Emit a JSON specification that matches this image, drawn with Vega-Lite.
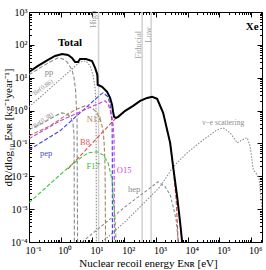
{
  "$schema": "https://vega.github.io/schema/vega-lite/v6.json",
  "width": 233,
  "height": 230,
  "autosize": {"type": "none"},
  "padding": {"left": 29, "top": 12, "right": 4, "bottom": 28},
  "config": {
    "view": {"stroke": "#000000", "strokeWidth": 1},
    "font": "Liberation Serif",
    "axis": {"grid": false, "domain": false, "tickColor": "#000000", "labelColor": "#000000", "titleColor": "#000000", "labelFont": "Liberation Serif", "titleFont": "Liberation Serif", "labelOverlap": false, "labelBound": false, "labelFlush": false},
    "text": {"font": "Liberation Serif", "align": "center", "baseline": "middle"}
  },
  "datasets": {
    "curves": [
      {"s": "Total", "E": 0.1, "R": 15.0}, {"s": "Total", "E": 0.192, "R": 22.9}, {"s": "Total", "E": 0.397, "R": 34.8}, {"s": "Total", "E": 0.661, "R": 46.0}, {"s": "Total", "E": 1.1, "R": 52.9}, {"s": "Total", "E": 1.7, "R": 49.3}, {"s": "Total", "E": 2.27, "R": 40.0}, {"s": "Total", "E": 2.82, "R": 30.2}, {"s": "Total", "E": 3.52, "R": 30.2}, {"s": "Total", "E": 4.06, "R": 37.2}, {"s": "Total", "E": 6.28, "R": 37.2}, {"s": "Total", "E": 9.7, "R": 32.4}, {"s": "Total", "E": 12.1, "R": 19.9}, {"s": "Total", "E": 14.0, "R": 13.0}, {"s": "Total", "E": 14.3, "R": 11.5}, {"s": "Total", "E": 14.6, "R": 6.1}, {"s": "Total", "E": 20.1, "R": 5.25}, {"s": "Total", "E": 28.9, "R": 3.7}, {"s": "Total", "E": 35.9, "R": 2.43}, {"s": "Total", "E": 41.5, "R": 1.49}, {"s": "Total", "E": 44.7, "R": 0.912}, {"s": "Total", "E": 48.0, "R": 0.644}, {"s": "Total", "E": 55.5, "R": 0.6}, {"s": "Total", "E": 64.3, "R": 0.644}, {"s": "Total", "E": 107, "R": 0.98}, {"s": "Total", "E": 191, "R": 1.39}, {"s": "Total", "E": 318, "R": 1.97}, {"s": "Total", "E": 527, "R": 2.43}, {"s": "Total", "E": 759, "R": 2.61}, {"s": "Total", "E": 1091, "R": 2.27}, {"s": "Total", "E": 1687, "R": 0.851}, {"s": "Total", "E": 2805, "R": 0.104}, {"s": "Total", "E": 3491, "R": 0.0195}, {"s": "Total", "E": 4667, "R": 0.00238}, {"s": "Total", "E": 5794, "R": 0.000386}, {"s": "Total", "E": 6699, "R": 0.0001},
      {"s": "pp", "E": 0.1, "R": 12.2}, {"s": "pp", "E": 0.222, "R": 19.9}, {"s": "pp", "E": 0.459, "R": 30.2}, {"s": "pp", "E": 0.822, "R": 40.0}, {"s": "pp", "E": 1.18, "R": 37.2}, {"s": "pp", "E": 1.58, "R": 30.2}, {"s": "pp", "E": 2.27, "R": 17.3}, {"s": "pp", "E": 2.63, "R": 9.86}, {"s": "pp", "E": 2.93, "R": 4.26}, {"s": "pp", "E": 3.27, "R": 0.521}, {"s": "pp", "E": 3.39, "R": 0.0001},
      {"s": "7Be(0.86)", "E": 0.1, "R": 1.29}, {"s": "7Be(0.86)", "E": 4.06, "R": 30.2}, {"s": "7Be(0.86)", "E": 6.28, "R": 32.4}, {"s": "7Be(0.86)", "E": 8.4, "R": 22.9}, {"s": "7Be(0.86)", "E": 10.4, "R": 12.2}, {"s": "7Be(0.86)", "E": 12.1, "R": 4.9}, {"s": "7Be(0.86)", "E": 13.0, "R": 1.05}, {"s": "7Be(0.86)", "E": 13.3, "R": 0.0001},
      {"s": "7Be(0.38)", "E": 0.1, "R": 0.259}, {"s": "7Be(0.38)", "E": 0.32, "R": 0.454}, {"s": "7Be(0.38)", "E": 0.661, "R": 0.69}, {"s": "7Be(0.38)", "E": 1.1, "R": 0.851}, {"s": "7Be(0.38)", "E": 1.58, "R": 0.794}, {"s": "7Be(0.38)", "E": 2.11, "R": 0.6}, {"s": "7Be(0.38)", "E": 2.44, "R": 0.394}, {"s": "7Be(0.38)", "E": 2.63, "R": 0.182}, {"s": "7Be(0.38)", "E": 2.69, "R": 0.0001},
      {"s": "B8", "E": 1.7, "R": 0.0169}, {"s": "B8", "E": 55.5, "R": 0.6}, {"s": "B8", "E": 64.3, "R": 0.64}, {"s": "B8", "E": 107, "R": 0.97}, {"s": "B8", "E": 191, "R": 1.38}, {"s": "B8", "E": 318, "R": 1.96}, {"s": "B8", "E": 527, "R": 2.42}, {"s": "B8", "E": 759, "R": 2.6}, {"s": "B8", "E": 1091, "R": 2.26}, {"s": "B8", "E": 1687, "R": 0.845}, {"s": "B8", "E": 2805, "R": 0.1}, {"s": "B8", "E": 3491, "R": 0.0185}, {"s": "B8", "E": 4335, "R": 0.00193}, {"s": "B8", "E": 4667, "R": 0.000476}, {"s": "B8", "E": 5012, "R": 0.0001},
      {"s": "N13", "E": 0.1, "R": 0.17}, {"s": "N13", "E": 0.459, "R": 0.343}, {"s": "N13", "E": 1.37, "R": 0.69}, {"s": "N13", "E": 2.82, "R": 1.05}, {"s": "N13", "E": 5.85, "R": 1.39}, {"s": "N13", "E": 9.7, "R": 1.21}, {"s": "N13", "E": 14.0, "R": 0.851}, {"s": "N13", "E": 18.7, "R": 0.454}, {"s": "N13", "E": 21.6, "R": 0.242}, {"s": "N13", "E": 23.2, "R": 0.112}, {"s": "N13", "E": 24.9, "R": 0.0224}, {"s": "N13", "E": 25.9, "R": 0.0001},
      {"s": "pep", "E": 0.1, "R": 0.0638}, {"s": "pep", "E": 0.95, "R": 0.242}, {"s": "pep", "E": 17.4, "R": 3.0}, {"s": "pep", "E": 21.6, "R": 3.45}, {"s": "pep", "E": 31.0, "R": 2.61}, {"s": "pep", "E": 35.9, "R": 1.49}, {"s": "pep", "E": 41.5, "R": 0.454}, {"s": "pep", "E": 42.2, "R": 0.05}, {"s": "pep", "E": 42.5, "R": 0.0001},
      {"s": "O15", "E": 0.1, "R": 0.138}, {"s": "O15", "E": 0.95, "R": 0.486}, {"s": "O15", "E": 17.4, "R": 1.71}, {"s": "O15", "E": 24.9, "R": 1.97}, {"s": "O15", "E": 31.0, "R": 1.6}, {"s": "O15", "E": 35.9, "R": 1.05}, {"s": "O15", "E": 41.5, "R": 0.6}, {"s": "O15", "E": 44.7, "R": 0.367}, {"s": "O15", "E": 48.0, "R": 0.129}, {"s": "O15", "E": 49.0, "R": 0.0001},
      {"s": "F17", "E": 0.1, "R": 0.00157}, {"s": "F17", "E": 1.7, "R": 0.0182}, {"s": "F17", "E": 3.52, "R": 0.0318}, {"s": "F17", "E": 7.26, "R": 0.0518}, {"s": "F17", "E": 14.0, "R": 0.0556}, {"s": "F17", "E": 21.6, "R": 0.045}, {"s": "F17", "E": 31.0, "R": 0.0257}, {"s": "F17", "E": 41.5, "R": 0.00783}, {"s": "F17", "E": 44.7, "R": 0.00238}, {"s": "F17", "E": 51.6, "R": 0.000476}, {"s": "F17", "E": 55.5, "R": 0.0001},
      {"s": "hep", "E": 4.7, "R": 0.0001}, {"s": "hep", "E": 107, "R": 0.00118}, {"s": "hep", "E": 456, "R": 0.00338}, {"s": "hep", "E": 1172, "R": 0.00681}, {"s": "hep", "E": 1950, "R": 0.0048}, {"s": "hep", "E": 2805, "R": 0.00274}, {"s": "hep", "E": 3491, "R": 0.00118}, {"s": "hep", "E": 4335, "R": 0.000476}, {"s": "hep", "E": 5070, "R": 0.0001},
      {"s": "ν−e scattering", "E": 20.1, "R": 0.0001}, {"s": "ν−e scattering", "E": 107, "R": 0.000414}, {"s": "ν−e scattering", "E": 318, "R": 0.00118}, {"s": "ν−e scattering", "E": 1355, "R": 0.0048}, {"s": "ν−e scattering", "E": 3491, "R": 0.0195}, {"s": "ν−e scattering", "E": 9640, "R": 0.0518}, {"s": "ν−e scattering", "E": 30800, "R": 0.129}, {"s": "ν−e scattering", "E": 85300, "R": 0.259}, {"s": "ν−e scattering", "E": 131800, "R": 0.298}, {"s": "ν−e scattering", "E": 219300, "R": 0.21}, {"s": "ν−e scattering", "E": 364800, "R": 0.104}, {"s": "ν−e scattering", "E": 523600, "R": 0.129}, {"s": "ν−e scattering", "E": 753000, "R": 0.148}, {"s": "ν−e scattering", "E": 937000, "R": 0.0789}, {"s": "ν−e scattering", "E": 1164000, "R": 0.0158}, {"s": "ν−e scattering", "E": 1556000, "R": 0.0111}, {"s": "ν−e scattering", "E": 1803000, "R": 0.00783}, {"s": "ν−e scattering", "E": 2239000, "R": 0.000778}
    ],
    "thr": [{"name": "High", "E": 15.6}, {"name": "Fiducial", "E": 367}, {"name": "Low", "E": 706}],
    "labels": [
      {"s": "Total", "t": "Total", "E": 1.96, "R": 114},
      {"s": "Xe", "t": "Xe", "E": 1080000, "R": 350},
      {"s": "pp", "t": "pp", "E": 0.428, "R": 15.0},
      {"s": "N13", "t": "N13", "E": 11.2, "R": 0.56},
      {"s": "pep", "t": "pep", "E": 0.344, "R": 0.0518},
      {"s": "B8", "t": "B8", "E": 5.85, "R": 0.112},
      {"s": "F17", "t": "F17", "E": 10.4, "R": 0.0209},
      {"s": "O15", "t": "O15", "E": 99.3, "R": 0.0158},
      {"s": "hep", "t": "hep", "E": 205, "R": 0.0042},
      {"s": "ν−e scattering", "t": "ν−e scattering", "E": 131800, "R": 0.423},
      {"s": "7Be(0.86)", "t": "⁷Be(0.86)", "E": 0.257, "R": 4.9},
      {"s": "7Be(0.38)", "t": "⁷Be(0.38)", "E": 0.257, "R": 0.486},
      {"s": "High", "t": "High", "E": 10.6, "R": 600},
      {"s": "Fiducial", "t": "Fiducial", "E": 274, "R": 100},
      {"s": "Low", "t": "Low", "E": 560, "R": 200}
    ]
  },
  "resolve": {"axis": {"x": "independent", "y": "independent"}},
  "layer": [
    {
      "data": {"name": "thr"},
      "mark": {"type": "rule", "color": "#d2d2d2", "strokeWidth": 1.5},
      "encoding": {
        "x": {"field": "E", "type": "quantitative", "scale": {"type": "log", "domain": [0.1, 2200000], "nice": false}, "axis": null}
      }
    },
    {
      "data": {"name": "curves"},
      "transform": [{"filter": "datum.s !== 'Total'"}],
      "mark": {"type": "line", "clip": true, "strokeWidth": 1.1},
      "encoding": {
        "x": {"field": "E", "type": "quantitative", "scale": {"type": "log", "domain": [0.1, 2200000], "nice": false},
          "axis": {"orient": "bottom", "values": [0.1, 1, 10, 100, 1000, 10000, 100000, 1000000], "labelExpr": "'10' + (datum.value < 0.5 ? '⁻' : '') + ['⁰','¹','²','³','⁴','⁵','⁶'][abs(round(log(datum.value)/LN10))]", "tickSize": -5, "labelPadding": 8, "labelOffset": 4, "labelFontSize": 10, "title": "Nuclear recoil energy Eɴʀ [eV]", "titleFontSize": 11, "titleFontWeight": "normal", "titleX": 119, "titleY": 21, "titleBaseline": "middle"}},
        "y": {"field": "R", "type": "quantitative", "scale": {"type": "log", "domain": [0.0001, 1000], "nice": false},
          "axis": {"orient": "left", "values": [0.0001, 0.001, 0.01, 0.1, 1, 10, 100, 1000], "labelExpr": "'10' + (datum.value < 0.5 ? '⁻' : '') + ['⁰','¹','²','³','⁴','⁵','⁶'][abs(round(log(datum.value)/LN10))]", "tickSize": -5, "labelPadding": 7, "labelFontSize": 10, "title": "dR/dlog₁₀ Eɴʀ [kg⁻¹year⁻¹]", "titleFontSize": 11, "titleFontWeight": "normal", "titleX": -21, "titleY": 115, "titleAngle": 270, "titleAlign": "center", "titleBaseline": "middle"}},
        "color": {"field": "s", "type": "nominal", "legend": null, "scale": {"domain": ["pp", "7Be(0.86)", "7Be(0.38)", "N13", "pep", "O15", "F17", "B8", "hep", "ν−e scattering"], "range": ["#8c8c8c", "#8c8c8c", "#8c8c8c", "#a8845c", "#3c3ce6", "#d936d9", "#3cc83c", "#e04646", "#8c8c8c", "#8c8c8c"]}},
        "strokeDash": {"field": "s", "type": "nominal", "legend": null, "scale": {"domain": ["pp", "7Be(0.86)", "7Be(0.38)", "N13", "pep", "O15", "F17", "B8", "hep", "ν−e scattering"], "range": [[4, 2], [1.5, 1.5], [4, 2], [4, 2], [4, 2], [4, 2], [4, 2], [4, 2], [3, 2], [1.5, 1.5]]}}
      }
    },
    {
      "data": {"name": "curves"},
      "transform": [{"filter": "datum.s === 'Total'"}],
      "mark": {"type": "line", "clip": true, "strokeWidth": 2, "color": "#000000"},
      "encoding": {
        "x": {"field": "E", "type": "quantitative", "scale": {"type": "log", "domain": [0.1, 2200000], "nice": false},
          "axis": {"orient": "bottom", "values": [0.2, 0.3, 0.4, 0.5, 0.6, 0.7, 0.8, 0.9, 2, 3, 4, 5, 6, 7, 8, 9, 20, 30, 40, 50, 60, 70, 80, 90, 200, 300, 400, 500, 600, 700, 800, 900, 2000, 3000, 4000, 5000, 6000, 7000, 8000, 9000, 20000, 30000, 40000, 50000, 60000, 70000, 80000, 90000, 200000, 300000, 400000, 500000, 600000, 700000, 800000, 900000, 2000000], "labels": false, "tickSize": -2.5, "title": null}},
        "y": {"field": "R", "type": "quantitative", "scale": {"type": "log", "domain": [0.0001, 1000], "nice": false},
          "axis": {"orient": "left", "values": [0.0002, 0.0003, 0.0004, 0.0005, 0.0006, 0.0007, 0.0008, 0.0009, 0.002, 0.003, 0.004, 0.005, 0.006, 0.007, 0.008, 0.009, 0.02, 0.03, 0.04, 0.05, 0.06, 0.07, 0.08, 0.09, 0.2, 0.3, 0.4, 0.5, 0.6, 0.7, 0.8, 0.9, 2, 3, 4, 5, 6, 7, 8, 9, 20, 30, 40, 50, 60, 70, 80, 90, 200, 300, 400, 500, 600, 700, 800, 900], "labels": false, "tickSize": -2.5, "title": null}}
      }
    },
    {
      "data": {"name": "curves"},
      "transform": [{"filter": "datum.s === 'none'"}],
      "mark": {"type": "line"},
      "encoding": {
        "x": {"field": "E", "type": "quantitative", "scale": {"type": "log", "domain": [0.1, 2200000], "nice": false},
          "axis": {"orient": "top", "values": [0.1, 1, 10, 100, 1000, 10000, 100000, 1000000], "labels": false, "tickSize": -5, "title": null}},
        "y": {"field": "R", "type": "quantitative", "scale": {"type": "log", "domain": [0.0001, 1000], "nice": false},
          "axis": {"orient": "right", "values": [0.0001, 0.001, 0.01, 0.1, 1, 10, 100, 1000], "labels": false, "tickSize": -5, "title": null}}
      }
    },
    {
      "data": {"name": "curves"},
      "transform": [{"filter": "datum.s === 'none'"}],
      "mark": {"type": "line"},
      "encoding": {
        "x": {"field": "E", "type": "quantitative", "scale": {"type": "log", "domain": [0.1, 2200000], "nice": false},
          "axis": {"orient": "top", "values": [0.2, 0.3, 0.4, 0.5, 0.6, 0.7, 0.8, 0.9, 2, 3, 4, 5, 6, 7, 8, 9, 20, 30, 40, 50, 60, 70, 80, 90, 200, 300, 400, 500, 600, 700, 800, 900, 2000, 3000, 4000, 5000, 6000, 7000, 8000, 9000, 20000, 30000, 40000, 50000, 60000, 70000, 80000, 90000, 200000, 300000, 400000, 500000, 600000, 700000, 800000, 900000, 2000000], "labels": false, "tickSize": -2.5, "title": null}},
        "y": {"field": "R", "type": "quantitative", "scale": {"type": "log", "domain": [0.0001, 1000], "nice": false},
          "axis": {"orient": "right", "values": [0.0002, 0.0003, 0.0004, 0.0005, 0.0006, 0.0007, 0.0008, 0.0009, 0.002, 0.003, 0.004, 0.005, 0.006, 0.007, 0.008, 0.009, 0.02, 0.03, 0.04, 0.05, 0.06, 0.07, 0.08, 0.09, 0.2, 0.3, 0.4, 0.5, 0.6, 0.7, 0.8, 0.9, 2, 3, 4, 5, 6, 7, 8, 9, 20, 30, 40, 50, 60, 70, 80, 90, 200, 300, 400, 500, 600, 700, 800, 900], "labels": false, "tickSize": -2.5, "title": null}}
      }
    },
    {
      "data": {"name": "labels"},
      "transform": [{"filter": "datum.s === 'Total' || datum.s === 'Xe'"}],
      "mark": {"type": "text", "fontSize": 11, "fontWeight": "bold", "color": "#000000"},
      "encoding": {
        "x": {"field": "E", "type": "quantitative", "scale": {"type": "log", "domain": [0.1, 2200000], "nice": false}, "axis": null},
        "y": {"field": "R", "type": "quantitative", "scale": {"type": "log", "domain": [0.0001, 1000], "nice": false}, "axis": null},
        "text": {"field": "t"}
      }
    },
    {
      "data": {"name": "labels"},
      "transform": [{"filter": "datum.s === 'pp' || datum.s === 'hep'"}],
      "mark": {"type": "text", "fontSize": 8.5, "color": "#8c8c8c"},
      "encoding": {
        "x": {"field": "E", "type": "quantitative", "scale": {"type": "log", "domain": [0.1, 2200000], "nice": false}, "axis": null},
        "y": {"field": "R", "type": "quantitative", "scale": {"type": "log", "domain": [0.0001, 1000], "nice": false}, "axis": null},
        "text": {"field": "t"}
      }
    },
    {
      "data": {"name": "labels"},
      "transform": [{"filter": "datum.s === 'ν−e scattering'"}],
      "mark": {"type": "text", "fontSize": 7.5, "color": "#8c8c8c"},
      "encoding": {
        "x": {"field": "E", "type": "quantitative", "scale": {"type": "log", "domain": [0.1, 2200000], "nice": false}, "axis": null},
        "y": {"field": "R", "type": "quantitative", "scale": {"type": "log", "domain": [0.0001, 1000], "nice": false}, "axis": null},
        "text": {"field": "t"}
      }
    },
    {
      "data": {"name": "labels"},
      "transform": [{"filter": "datum.s === '7Be(0.86)' || datum.s === '7Be(0.38)'"}],
      "mark": {"type": "text", "fontSize": 6.5, "color": "#8c8c8c", "angle": 325},
      "encoding": {
        "x": {"field": "E", "type": "quantitative", "scale": {"type": "log", "domain": [0.1, 2200000], "nice": false}, "axis": null},
        "y": {"field": "R", "type": "quantitative", "scale": {"type": "log", "domain": [0.0001, 1000], "nice": false}, "axis": null},
        "text": {"field": "t"}
      }
    },
    {
      "data": {"name": "labels"},
      "transform": [{"filter": "datum.s === 'High' || datum.s === 'Fiducial' || datum.s === 'Low'"}],
      "mark": {"type": "text", "fontSize": 8.5, "color": "#a0a0a0", "angle": 270},
      "encoding": {
        "x": {"field": "E", "type": "quantitative", "scale": {"type": "log", "domain": [0.1, 2200000], "nice": false}, "axis": null},
        "y": {"field": "R", "type": "quantitative", "scale": {"type": "log", "domain": [0.0001, 1000], "nice": false}, "axis": null},
        "text": {"field": "t"}
      }
    },
    {
      "data": {"name": "labels"},
      "transform": [{"filter": "datum.s === 'N13'"}],
      "mark": {"type": "text", "fontSize": 8.5, "color": "#a8845c"},
      "encoding": {
        "x": {"field": "E", "type": "quantitative", "scale": {"type": "log", "domain": [0.1, 2200000], "nice": false}, "axis": null},
        "y": {"field": "R", "type": "quantitative", "scale": {"type": "log", "domain": [0.0001, 1000], "nice": false}, "axis": null},
        "text": {"field": "t"}
      }
    },
    {
      "data": {"name": "labels"},
      "transform": [{"filter": "datum.s === 'pep'"}],
      "mark": {"type": "text", "fontSize": 8.5, "color": "#4a4ad8"},
      "encoding": {
        "x": {"field": "E", "type": "quantitative", "scale": {"type": "log", "domain": [0.1, 2200000], "nice": false}, "axis": null},
        "y": {"field": "R", "type": "quantitative", "scale": {"type": "log", "domain": [0.0001, 1000], "nice": false}, "axis": null},
        "text": {"field": "t"}
      }
    },
    {
      "data": {"name": "labels"},
      "transform": [{"filter": "datum.s === 'B8'"}],
      "mark": {"type": "text", "fontSize": 8.5, "color": "#d85a5a"},
      "encoding": {
        "x": {"field": "E", "type": "quantitative", "scale": {"type": "log", "domain": [0.1, 2200000], "nice": false}, "axis": null},
        "y": {"field": "R", "type": "quantitative", "scale": {"type": "log", "domain": [0.0001, 1000], "nice": false}, "axis": null},
        "text": {"field": "t"}
      }
    },
    {
      "data": {"name": "labels"},
      "transform": [{"filter": "datum.s === 'F17'"}],
      "mark": {"type": "text", "fontSize": 8.5, "color": "#3cb83c"},
      "encoding": {
        "x": {"field": "E", "type": "quantitative", "scale": {"type": "log", "domain": [0.1, 2200000], "nice": false}, "axis": null},
        "y": {"field": "R", "type": "quantitative", "scale": {"type": "log", "domain": [0.0001, 1000], "nice": false}, "axis": null},
        "text": {"field": "t"}
      }
    },
    {
      "data": {"name": "labels"},
      "transform": [{"filter": "datum.s === 'O15'"}],
      "mark": {"type": "text", "fontSize": 8.5, "color": "#d040d0"},
      "encoding": {
        "x": {"field": "E", "type": "quantitative", "scale": {"type": "log", "domain": [0.1, 2200000], "nice": false}, "axis": null},
        "y": {"field": "R", "type": "quantitative", "scale": {"type": "log", "domain": [0.0001, 1000], "nice": false}, "axis": null},
        "text": {"field": "t"}
      }
    }
  ]
}
